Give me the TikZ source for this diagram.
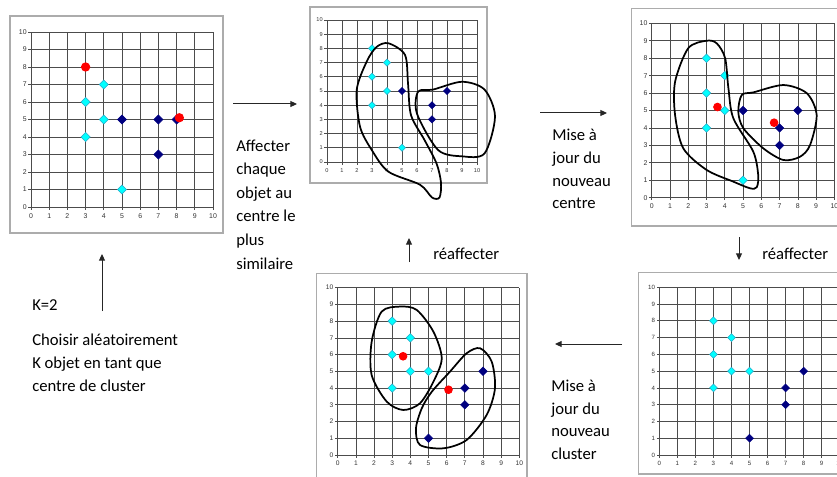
\documentclass[tikz,border=0pt]{standalone}
\usepackage{fontspec}
\setmainfont{Carlito}
\newfontfamily\tickfont{Liberation Sans}
\usetikzlibrary{positioning,arrows.meta,shapes.geometric}
\definecolor{navy}{HTML}{000080}
\definecolor{aqua}{HTML}{00FFFF}
\definecolor{aquaedge}{HTML}{2AA8C8}
\tikzset{
  panelbox/.style={draw=gray!65,line width=0.9pt},
  gridline/.style={draw=black!70,line width=0.5pt},
  ticklbl/.style={inner sep=1pt,text=black!80},
  tsize/.style={ticklbl/.append style={font=\tickfont\fontsize{#1}{#1}\selectfont}},
  cpt/.style={diamond,aspect=1,draw=aquaedge,fill=aqua,inner sep=0pt,line width=0.4pt},
  npt/.style={diamond,aspect=1,draw=navy,fill=navy,inner sep=0pt,line width=0.4pt},
  ctr/.style={circle,fill=red,inner sep=0pt},
  msize/.style={cpt/.append style={minimum size=#1},npt/.append style={minimum size=#1},
    ctr/.append style={minimum size=#1}},
  clus/.style={draw=black,line width=1.3pt},
  txt/.style={align=left,inner sep=0pt,anchor=base west,font=\fontsize{12.5}{17.5}\selectfont},
  flow/.style={-{Triangle[length=5pt,width=4.5pt]},line width=0.75pt,black!85},
}
% grid 0..10 with ticks, drawn in the current panel scope
\newcommand{\kgrid}{%
  \draw[gridline,step=1] (0,0) grid (10,10);
  \foreach \k in {0,...,10}{
    \draw[gridline] (0,\k) -- ++(-2pt,0) node[ticklbl,left] {\k};
    \draw[gridline] (\k,0) -- ++(0,-2pt) node[ticklbl,below=1.5pt] {\k};
  }%
}

\begin{document}
\begin{tikzpicture}[x=0.75pt,y=-0.75pt]
  \useasboundingbox (0,0) rectangle (837,477);
  \fill[white] (0,0) rectangle (837,477);
  \clip (0,0) rectangle (837,477);

  % panel 1: random centres
  \draw[panelbox] (10,16) rectangle (223,233);
  \begin{scope}[shift={(31,207)},x=13.65pt,y=13.125pt,tsize=5.2pt,msize=7pt]
    \kgrid
    \foreach \px/\py [count=\n] in {3/6,4/7,4/5,3/4,5/1}
      \node[cpt] (a\n) at (\px,\py) {};
    \foreach \px/\py [count=\n] in {5/5,7/5,8/5,7/3}
      \node[npt] (b\n) at (\px,\py) {};
    \node[ctr] (ra) at (3,8) {};
    \node[ctr] (rb) at (8.15,5.1) {};
  \end{scope}

  % panel 2: first assignment
  \draw[panelbox] (310,7) rectangle (487,183);
  \begin{scope}[shift={(327,162)},x=11.25pt,y=10.65pt,tsize=4.2pt,msize=5.5pt]
    \kgrid
    \foreach \px/\py [count=\n] in {3/8,4/7,3/6,4/5,3/4,5/1}
      \node[cpt] (c\n) at (\px,\py) {};
    \foreach \px/\py [count=\n] in {5/5,7/4,7/3,8/5}
      \node[npt] (d\n) at (\px,\py) {};
    \draw[clus] plot[smooth cycle] coordinates {(4.1,8.36) (5.2,7.54) (5.4,5.54)
      (5.6,3.3) (6.5,1.55) (7.3,-0.1) (7.6,-1.46) (7.5,-2.5) (7.0,-2.5) (6.2,-1.6)
      (4.09,-0.68) (2.98,0.85) (2.2,2.49) (1.98,5.07) (2.64,7.06) (3.3,8.1)};
    \draw[clus] plot[smooth cycle] coordinates {(7.07,5.1) (9,5.65) (10.5,5.1)
      (11.2,3.2) (10.5,0.6) (9,0.4) (7.4,0.85) (6,3.4) (6.07,4.95)};
  \end{scope}

  % panel 3: new centres
  \draw[panelbox] (631.7,8.3) rectangle (850,226);
  \begin{scope}[shift={(651.7,197.7)},x=13.7pt,y=13.08pt,tsize=5.2pt,msize=6.5pt]
    \kgrid
    \foreach \px/\py [count=\n] in {3/8,4/7,3/6,4/5,3/4,5/1}
      \node[cpt] (e\n) at (\px,\py) {};
    \foreach \px/\py [count=\n] in {5/5,8/5,7/4,7/3}
      \node[npt] (f\n) at (\px,\py) {};
    \draw[clus] plot[smooth cycle] coordinates {(3,9) (3.56,8.85) (4.02,8.0) (4.2,6.27)
      (4.47,4.55) (5.56,2.64) (5.83,1.3) (5.75,0.6) (5.38,0.54) (4.47,0.92) (3.01,1.59)
      (1.73,2.83) (1.28,4.74) (1.28,6.65) (2.0,8.57)};
    \draw[clus] plot[smooth cycle] coordinates {(5.57,6.04) (7.21,6.46) (8.49,5.99)
      (9.03,4.74) (8.67,3.02) (8.12,2.35) (7.21,2.16) (6.11,2.83) (5.02,3.98)
      (4.74,4.93) (4.93,5.89)};
    \node[ctr] (rc) at (3.6,5.2) {};
    \node[ctr] (rd) at (6.7,4.3) {};
  \end{scope}

  % panel 4: new clusters with centres
  \draw[panelbox] (316.7,273.3) rectangle (527,490);
  \begin{scope}[shift={(337.7,455)},x=13.62pt,y=12.55pt,tsize=5pt,msize=6.5pt]
    \kgrid
    \foreach \px/\py [count=\n] in {3/8,4/7,3/6,4/5,5/5,3/4}
      \node[cpt] (g\n) at (\px,\py) {};
    \foreach \px/\py [count=\n] in {8/5,7/4,7/3,5/1}
      \node[npt] (h\n) at (\px,\py) {};
    \draw[clus] plot[smooth cycle] coordinates {(3.43,8.87) (4.35,8.67) (5.27,7.37)
      (5.73,5.78) (5.27,4.38) (4.53,3.09) (3.61,2.69) (2.7,3.19) (1.87,4.78)
      (1.87,6.77) (2.42,8.57)};
    \draw[clus] plot[smooth cycle] coordinates {(7.84,6.38) (8.48,5.58) (8.66,3.98)
      (8.2,2.39) (7.1,0.9) (5.82,0.4) (4.53,0.6) (4.31,1.59) (4.63,2.79) (5.18,3.78)
      (6.18,4.98) (7.1,6.08)};
    \node[ctr] (re) at (3.6,5.9) {};
    \node[ctr] (rf) at (6.1,3.9) {};
  \end{scope}

  % panel 5: reassigned objects
  \draw[panelbox] (638.3,272.7) rectangle (850,474);
  \begin{scope}[shift={(659.3,455)},x=13.53pt,y=12.58pt,tsize=4.6pt,msize=6pt]
    \kgrid
    \foreach \px/\py [count=\n] in {3/8,4/7,3/6,4/5,5/5,3/4}
      \node[cpt] (i\n) at (\px,\py) {};
    \foreach \px/\py [count=\n] in {8/5,7/4,7/3,5/1}
      \node[npt] (j\n) at (\px,\py) {};
  \end{scope}

  % labels (base = last line)
  \node[txt] (k2) at (32,310) {K=2};
  \node[txt,font=\fontsize{12.5}{17.25}\selectfont] (choose) at (32,391)
    {Choisir aléatoirement\\K objet en tant que\\centre de cluster};
  \node[txt,font=\fontsize{12.5}{17.7}\selectfont] (assign) at (236,269)
    {Affecter\\chaque\\objet au\\centre le\\plus\\similaire};
  \node[txt,font=\fontsize{12.5}{17}\selectfont] (upcentre) at (552,209)
    {Mise à\\jour du\\nouveau\\centre};
  \node[txt,font=\fontsize{12.5}{16.8}\selectfont] (upclus) at (551,459)
    {Mise à\\jour du\\nouveau\\cluster};
  \node[txt] (re1) at (762,259) {réaffecter};
  \node[txt] (re2) at (433,259) {réaffecter};

  % arrows
  \coordinate (s0) at (102,311); \coordinate (t0) at (102,254);
  \coordinate (s1) at (233,104); \coordinate (t1) at (297,104);
  \coordinate (s2) at (540,113); \coordinate (t2) at (607,113);
  \coordinate (s3) at (739,237); \coordinate (t3) at (739,260);
  \coordinate (s4) at (622,344); \coordinate (t4) at (555,344);
  \coordinate (s5) at (409,262); \coordinate (t5) at (409,238);
  \draw[flow] (s0) -- (t0);
  \draw[flow] (s1) -- (t1);
  \draw[flow] (s2) -- (t2);
  \draw[flow] (s3) -- (t3);
  \draw[flow] (s4) -- (t4);
  \draw[flow] (s5) -- (t5);
\end{tikzpicture}
\end{document}
